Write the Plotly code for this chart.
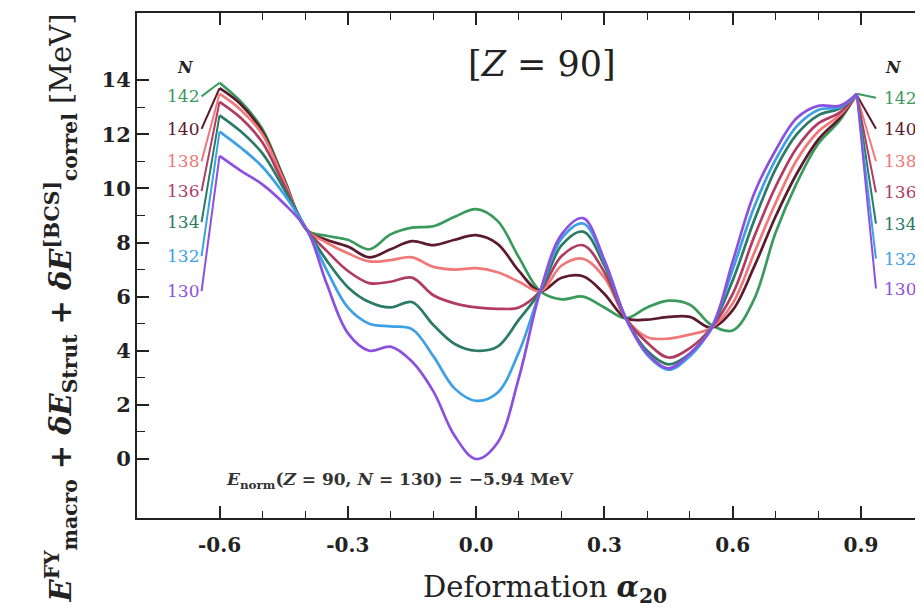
import plotly.graph_objects as go

# Deformation grid
alpha20 = [-0.6, -0.55, -0.5, -0.45, -0.395, -0.35, -0.3, -0.25, -0.2, -0.15, -0.1, -0.05, 0.0,
           0.05, 0.1, 0.15, 0.2, 0.25, 0.3, 0.35, 0.4, 0.45, 0.5, 0.55, 0.6, 0.65, 0.7, 0.75,
           0.8, 0.85, 0.89]

N_list = [142, 140, 138, 136, 134, 132, 130]

E_142 = [13.9, 13.2, 12.2, 10.4, 8.45, 8.25, 8.1, 7.75, 8.3, 8.55, 8.6, 8.95, 9.23, 8.8, 7.45, 6.2,
         5.9, 6.0, 5.6, 5.2, 5.6, 5.85, 5.7, 4.95, 4.75, 5.9, 8.35, 10.2, 11.65, 12.5, 13.5]
E_140 = [13.7, 13.1, 12.1, 10.35, 8.45, 8.1, 7.85, 7.45, 7.75, 8.05, 7.9, 8.1, 8.27, 7.95, 6.95, 6.2,
         6.7, 6.75, 6.1, 5.2, 5.15, 5.25, 5.25, 4.85, 5.5, 7.1, 8.95, 10.55, 11.8, 12.6, 13.45]
E_138 = [13.5, 12.9, 12.0, 10.3, 8.45, 8.0, 7.6, 7.3, 7.35, 7.45, 7.1, 7.0, 7.05, 6.9, 6.55, 6.2,
         7.15, 7.4, 6.7, 5.2, 4.5, 4.45, 4.6, 4.85, 5.75, 7.6, 9.45, 11.05, 12.1, 12.7, 13.45]
E_136 = [13.2, 12.6, 11.7, 10.15, 8.45, 7.7, 6.95, 6.5, 6.55, 6.7, 6.05, 5.75, 5.6, 5.55, 5.6, 6.2,
         7.5, 7.9, 6.9, 5.2, 4.3, 3.75, 4.1, 4.85, 6.1, 8.2, 10.05, 11.5, 12.4, 12.8, 13.45]
E_134 = [12.7, 12.1, 11.3, 10.0, 8.45, 7.35, 6.35, 5.8, 5.6, 5.8, 4.95, 4.25, 4.0, 4.15, 5.15, 6.2,
         7.9, 8.4, 7.15, 5.2, 4.0, 3.5, 3.9, 4.85, 6.6, 8.8, 10.7, 12.0, 12.7, 12.95, 13.45]
E_132 = [12.1, 11.5, 10.8, 9.8, 8.45, 7.0, 5.6, 5.0, 4.9, 4.8, 3.8, 2.6, 2.15, 2.45, 3.95, 6.2,
         8.15, 8.7, 7.3, 5.2, 3.85, 3.3, 3.8, 4.85, 7.0, 9.3, 11.05, 12.3, 12.9, 13.0, 13.45]
E_130 = [11.2, 10.65, 10.15, 9.45, 8.45, 6.5, 4.65, 4.0, 4.15, 3.6, 2.5, 0.85, 0.0, 0.6, 3.0, 6.2,
         8.3, 8.9, 7.35, 5.2, 3.9, 3.35, 3.9, 4.8, 7.3, 9.8, 11.4, 12.6, 13.05, 13.05, 13.5]

# label anchor values (where leader lines end)
label_left_y = [13.4, 12.2, 11.0, 9.9, 8.75, 7.5, 6.2]
label_right_y = [13.35, 12.2, 11.0, 9.85, 8.7, 7.4, 6.3]
label_left_x = -0.642
label_right_x = 0.935

colors = ["#3a9a5c", "#5c1a2e", "#f07878", "#b03c64", "#2a7a64", "#3ca0e6", "#8c50e0"]

x_tickvals = [-0.6, -0.3, 0.0, 0.3, 0.6, 0.9]
x_ticktext = ["-0.6", "-0.3", "0.0", "0.3", "0.6", "0.9"]
x_minor = [-0.5, -0.4, -0.2, -0.1, 0.1, 0.2, 0.4, 0.5, 0.7, 0.8]
y_tickvals = [0, 2, 4, 6, 8, 10, 12, 14]
y_minor = [1, 3, 5, 7, 9, 11, 13]

series = [E_142, E_140, E_138, E_136, E_134, E_132, E_130]

fig = go.Figure()
for n, ys, c, yl, yr in zip(N_list, series, colors, label_left_y, label_right_y):
    fig.add_trace(go.Scatter(x=[label_left_x, alpha20[0]], y=[yl, ys[0]], mode="lines",
                             line=dict(color=c, width=2), showlegend=False, hoverinfo="skip"))
    fig.add_trace(go.Scatter(x=[alpha20[-1], label_right_x], y=[ys[-1], yr], mode="lines",
                             line=dict(color=c, width=2), showlegend=False, hoverinfo="skip"))
    fig.add_trace(go.Scatter(x=alpha20, y=ys, mode="lines", name=str(n),
                             line=dict(color=c, width=2.7, shape="spline", smoothing=1.0),
                             showlegend=False))

serif = "DejaVu Serif"
ann = []
for n, c, yl, yr in zip(N_list, colors, label_left_y, label_right_y):
    ann.append(dict(x=label_left_x, y=yl, xref="x", yref="y", text=str(n), showarrow=False,
                    xanchor="right", yanchor="middle", xshift=-1,
                    font=dict(family=serif, size=17, color=c)))
    ann.append(dict(x=label_right_x, y=yr, xref="x", yref="y", text=str(n), showarrow=False,
                    xanchor="left", yanchor="middle", xshift=6,
                    font=dict(family=serif, size=17, color=c)))
ann.append(dict(x=-0.68, y=14.45, xref="x", yref="y", text="<b><i>N</i></b>", showarrow=False,
                font=dict(family=serif, size=16, color="#222")))
ann.append(dict(x=0.975, y=14.45, xref="x", yref="y", text="<b><i>N</i></b>", showarrow=False,
                font=dict(family=serif, size=16, color="#222")))
ann.append(dict(x=0.155, y=14.6, xref="x", yref="y", text="[<i>Z</i> = 90]", showarrow=False,
                font=dict(family=serif, size=35, color="#222")))
ann.append(dict(x=-0.178, y=-0.78, xref="x", yref="y",
                text="<b><i>E</i><sub>norm</sub>(<i>Z</i> = 90, <i>N</i> = 130) = −5.94 MeV</b>",
                showarrow=False, font=dict(family=serif, size=17, color="#333")))
ann.append(dict(x=0, y=0.415, xref="paper", yref="paper", xshift=-99, textangle=-90,
                text="<b><i>E</i><sup>FY</sup><sub>macro</sub> + <i>δE</i><sub>Strut</sub> + "
                     "<i>δE</i><sup>[BCS]</sup><sub>correl</sub></b> [MeV]",
                showarrow=False, font=dict(family=serif, size=29, color="#222")))
ann.append(dict(x=0.16, y=0, xref="x", yref="paper", yshift=-92,
                text="Deformation <b><i>α</i><sub>20</sub></b>", showarrow=False,
                font=dict(family=serif, size=29, color="#222")))

fig.update_layout(
    width=915, height=607,
    margin=dict(l=129, r=0, t=5, b=97),
    paper_bgcolor="white", plot_bgcolor="white",
    annotations=ann,
    xaxis=dict(range=[-0.793, 1.045], showgrid=False, zeroline=False,
               showline=True, linecolor="#222", linewidth=2, mirror="ticks",
               ticks="inside", ticklen=12, tickwidth=1.6, tickcolor="#222",
               tickmode="array", tickvals=x_tickvals, ticktext=x_ticktext,
               ticklabelstandoff=8,
               tickfont=dict(family=serif, size=20, color="#222", weight="bold"),
               minor=dict(tickmode="array", tickvals=x_minor, ticks="inside", ticklen=7,
                          tickwidth=1.4, tickcolor="#222")),
    yaxis=dict(range=[-2.18, 16.48], showgrid=False, zeroline=False,
               showline=True, linecolor="#222", linewidth=2,
               ticks="inside", ticklen=12, tickwidth=1.6, tickcolor="#222",
               tickmode="array", tickvals=y_tickvals,
               tickfont=dict(family=serif, size=21, color="#222", weight="bold"),
               minor=dict(tickmode="array", tickvals=y_minor, ticks="inside", ticklen=8,
                          tickwidth=1.4, tickcolor="#222")),
)

fig.write_html("out.html")
